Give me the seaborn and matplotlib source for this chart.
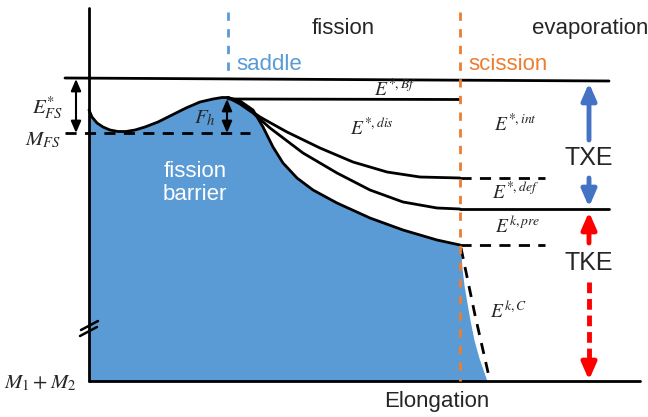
import matplotlib
matplotlib.use("Agg")
import matplotlib.pyplot as plt
import seaborn as sns

sns.set_theme(style="white")
plt.rcParams["font.family"] = ["Liberation Sans", "DejaVu Sans"]
plt.rcParams["mathtext.fontset"] = "stix"

# Esquema en coordenadas de pixel (y hacia abajo)
barrier_x = [89, 92, 97, 103, 110, 118, 126, 135, 145, 158, 172, 186, 200, 213, 222, 228]
barrier_y = [110, 117, 123, 127, 130, 131.5, 131.5, 130, 127, 122, 115, 108, 102, 99, 97.5, 97.5]
descent_x = [240, 253, 263, 273, 283, 297, 313, 337, 370, 403, 437, 460]
descent_y = [101, 110, 127, 147, 163, 178, 190, 203, 218, 230, 240, 245]
coulomb_x = [461, 462, 464, 467, 470, 474, 479, 487]
coulomb_y = [255, 268, 285, 303, 320, 340, 358, 381]

def_x = [228, 240, 260, 287, 320, 353, 387, 420, 460]
def_y = [97.5, 103, 117, 132, 148, 162, 172, 177, 178]
pre_x = [228, 240, 253, 270, 303, 337, 370, 403, 437, 460]
pre_y = [97.5, 104, 113, 128, 153, 173, 190, 202, 208, 209]

# niveles de energia
top_x, top_y = [65, 609], [78, 81]
bf_x, bf_y = [228, 460], [99, 99.5]
def_lvl_x, def_lvl_y = [460, 545], [178, 178]
mid_x, mid_y = [460, 609], [209, 209]
pre_lvl_x, pre_lvl_y = [460, 545], [245, 245]
bottom_x, bottom_y = [89, 640], [381, 381]
mfs_x, mfs_y = [65, 250], [133, 133]
axis_x, axis_y = [89, 89], [8, 381]
saddle_x, saddle_y = [228, 228], [12, 78]
sciss_x, sciss_y = [460, 460], [12, 381]
coul_dash_x, coul_dash_y = [461, 475, 490], [248, 315, 381]

BLUE_FILL = "#5B9BD5"
ORANGE = "#ED7D31"
TXE_BLUE = "#4472C4"

fig = plt.figure(figsize=(6.48, 4.17), dpi=100)
ax = fig.add_axes([0, 0, 1, 1])

# relleno de la barrera
fill_x = barrier_x + descent_x + coulomb_x
fill_y = barrier_y + descent_y + coulomb_y
ax.fill_between(fill_x, fill_y, 381, color=BLUE_FILL, lw=0, zorder=1)

def line(x, y, color="black", lw=2, ls="-", z=3):
    sns.lineplot(x=x, y=y, sort=False, estimator=None, color=color, lw=lw,
                 linestyle=ls, ax=ax, zorder=z)

line(barrier_x + descent_x, barrier_y + descent_y)
line(def_x, def_y)
line(pre_x, pre_y)
line(top_x, top_y)
line(bf_x, bf_y)
line(def_lvl_x, def_lvl_y, ls=(0, (4, 3)))
line(mid_x, mid_y)
line(pre_lvl_x, pre_lvl_y, ls=(0, (4, 3)))
line(bottom_x, bottom_y)
line(mfs_x, mfs_y, ls=(0, (4, 3)))
line(axis_x, axis_y)
line(coul_dash_x, coul_dash_y, ls=(0, (4, 3)))
line(saddle_x, saddle_y, color=BLUE_FILL, ls=(0, (3, 3)), z=2)
line(sciss_x, sciss_y, color=ORANGE, ls=(0, (3, 3)), z=4)

# marca de corte en el eje
line([81, 98], [330, 321], lw=1.8)
line([80, 97], [336, 327], lw=1.8)

def arrow(x, y_from, y_to, color, lw, style):
    ax.annotate("", xy=(x, y_to), xytext=(x, y_from),
                arrowprops=dict(arrowstyle=style, color=color, lw=lw,
                                shrinkA=0, shrinkB=0, mutation_scale=20), zorder=5)

small = "<|-|>,head_length=0.35,head_width=0.15"
arrow(76, 133, 79, "black", 1.5, small)
arrow(227, 133, 99, "black", 1.5, small)

big = "-|>,head_length=0.5,head_width=0.22"
arrow(589, 140, 83, TXE_BLUE, 3.5, big)
arrow(589, 178, 207, TXE_BLUE, 3.5, big)
arrow(589, 243, 212, "red", 3.5, big)
line([589, 589], [282, 368], color="red", lw=3.5, ls=(0, (2.2, 1.2)))
arrow(589, 366, 380, "red", 3.5, big)

# textos
ax.text(343, 28, "fission", fontsize=16, ha="center", va="center")
ax.text(590, 28, "evaporation", fontsize=16, ha="center", va="center")
ax.text(236, 64, "saddle", fontsize=16, color=BLUE_FILL, ha="left", va="center")
ax.text(468, 64, "scission", fontsize=16, color=ORANGE, ha="left", va="center")
ax.text(195, 183, "fission\nbarrier", fontsize=16, color="white", ha="center",
        va="center", linespacing=1.1)
ax.text(437, 402, "Elongation", fontsize=16, ha="center", va="center")
ax.text(589, 158, "TXE", fontsize=18, ha="center", va="center")
ax.text(589, 263, "TKE", fontsize=18, ha="center", va="center")

ax.text(48, 108, r"$E^{*}_{FS}$", fontsize=15, ha="center", va="center")
ax.text(43, 140, r"$M_{FS}$", fontsize=15, ha="center", va="center")
ax.text(205, 118, r"$F_h$", fontsize=15, ha="center", va="center")
ax.text(40, 383, r"$M_1+M_2$", fontsize=15, ha="center", va="center")
ax.text(395, 89, r"$E^{*,Bf}$", fontsize=14, ha="center", va="center")
ax.text(372, 128, r"$E^{*,dis}$", fontsize=14, ha="center", va="center")
ax.text(515, 124, r"$E^{*,int}$", fontsize=14, ha="center", va="center")
ax.text(515, 192, r"$E^{*,def}$", fontsize=14, ha="center", va="center")
ax.text(518, 226, r"$E^{k,pre}$", fontsize=14, ha="center", va="center")
ax.text(508, 311, r"$E^{k,C}$", fontsize=14, ha="center", va="center")

ax.set_xlim(0, 648)
ax.set_ylim(417, 0)
ax.axis("off")

fig.savefig("out.png", dpi=100)
